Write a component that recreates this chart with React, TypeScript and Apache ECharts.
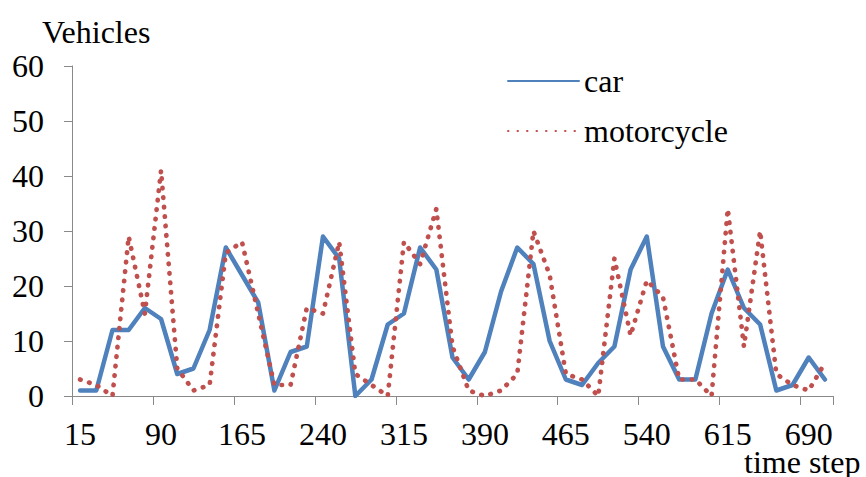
import React, { useEffect, useRef } from "react";
import * as echarts from "echarts";

const timeSteps = [
  "15", "30", "45", "60", "75", "90", "105", "120", "135", "150",
  "165", "180", "195", "210", "225", "240", "255", "270", "285", "300",
  "315", "330", "345", "360", "375", "390", "405", "420", "435", "450",
  "465", "480", "495", "510", "525", "540", "555", "570", "585", "600",
  "615", "630", "645", "660", "675", "690", "705",
];

const carValues = [
  1, 1, 12, 12, 16, 14, 4, 5, 12, 27,
  22, 17, 1, 8, 9, 29, 25, 0, 3, 13,
  15, 27, 23, 7, 3, 8, 19, 27, 24, 10,
  3, 2, 6, 9, 23, 29, 9, 3, 3, 15,
  23, 16, 13, 1, 2, 7, 3,
];

const motorcycleValues = [
  3, 2, 0, 29, 15, 41, 5, 1, 2, 26,
  28, 15, 2, 2, 16, 15, 28, 4, 2, 0,
  28, 24, 34, 9, 1, 0, 1, 4, 30, 22,
  4, 3, 0, 25, 11, 21, 18, 3, 3, 0,
  34, 9, 30, 4, 2, 1, 6,
];

const yMin = 0;
const yMax = 60;
const yInterval = 10;

const FONT = "Liberation Serif, serif";
const AXIS_GRAY = "#898989";
const CAR_BLUE = "#4F81BD";
const MOTO_RED = "#C0504D";

export default function App() {
  const ref = useRef<HTMLDivElement>(null);

  useEffect(() => {
    if (!ref.current) return;
    const chart = echarts.init(ref.current, undefined, { renderer: "svg" });
    chart.setOption({
      animation: false,
      backgroundColor: "#ffffff",
      textStyle: { fontFamily: FONT },
      grid: { left: 72, right: 33, top: 66, bottom: 81, containLabel: false },
      legend: {
        orient: "vertical",
        left: 502,
        top: 60,
        itemWidth: 71,
        itemHeight: 14,
        itemGap: 18,
        itemStyle: { opacity: 0 },
        textStyle: { fontSize: 32, color: "#000", fontFamily: FONT },
        data: ["car", "motorcycle"],
      },
      xAxis: {
        type: "category",
        data: timeSteps,
        boundaryGap: true,
        axisLine: { show: true, lineStyle: { color: AXIS_GRAY, width: 1 } },
        axisTick: {
          show: true,
          interval: 4,
          length: 9,
          lineStyle: { color: AXIS_GRAY, width: 1 },
        },
        axisLabel: {
          interval: 4,
          fontSize: 32,
          color: "#000",
          margin: 22,
          fontFamily: FONT,
        },
        splitLine: { show: false },
      },
      yAxis: {
        type: "value",
        min: yMin,
        max: yMax,
        interval: yInterval,
        axisLine: { show: true, lineStyle: { color: AXIS_GRAY, width: 1 } },
        axisTick: { show: true, length: 8, lineStyle: { color: AXIS_GRAY, width: 1 } },
        axisLabel: { fontSize: 32, color: "#000", margin: 28, fontFamily: FONT },
        splitLine: { show: false },
      },
      series: [
        {
          name: "car",
          type: "line",
          data: carValues,
          symbol: "none",
          lineStyle: { color: CAR_BLUE, width: 4.5, cap: "round", join: "round" },
          itemStyle: { color: CAR_BLUE },
        },
        {
          name: "motorcycle",
          type: "line",
          data: motorcycleValues,
          symbol: "none",
          lineStyle: { color: MOTO_RED, width: 4.7, type: [0.5, 9], cap: "round", join: "round" },
          itemStyle: { color: MOTO_RED },
        },
      ],
      graphic: [
        {
          type: "text",
          x: 42,
          y: 32,
          style: {
            text: "Vehicles",
            fontSize: 32,
            fontFamily: FONT,
            fill: "#000",
            align: "left",
            verticalAlign: "middle",
          },
        },
        {
          type: "text",
          x: 744,
          y: 462,
          style: {
            text: "time step",
            fontSize: 32,
            fontFamily: FONT,
            fill: "#000",
            align: "left",
            verticalAlign: "middle",
          },
        },
      ],
    });
    return () => chart.dispose();
  }, []);

  return (
    <div
      ref={ref}
      style={{ position: "absolute", left: 0, top: 0, width: 866, height: 477 }}
    />
  );
}
